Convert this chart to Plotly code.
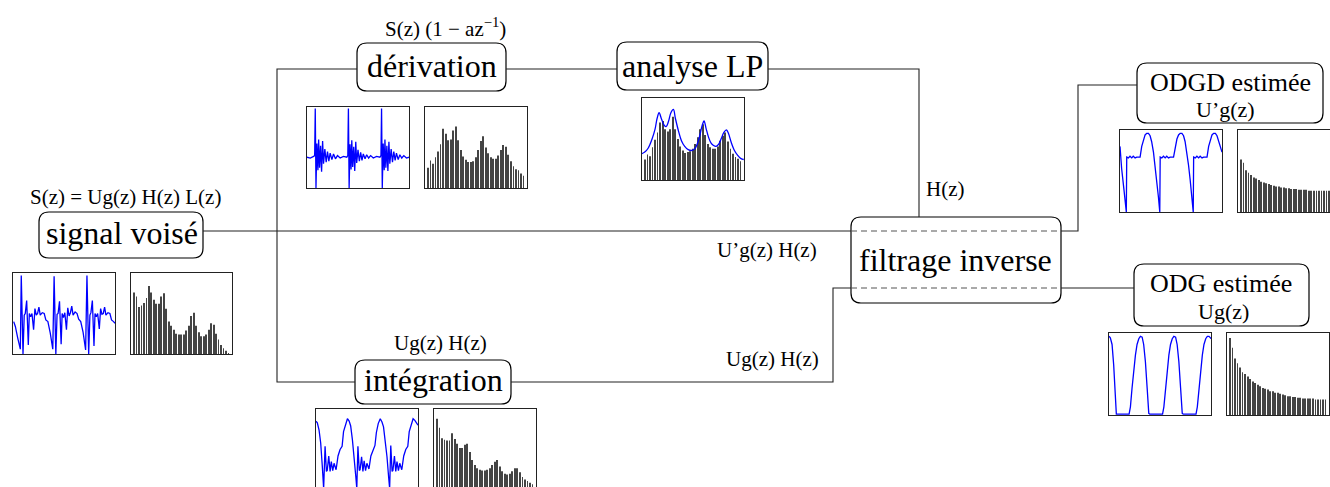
import plotly.graph_objects as go

# harmonic index shared by every spectrum inset
harmonics = list(range(1, 40))

# signal voisé : waveform (x and y in % of the inset box) and spectrum (% of box height)
sv_wave_x = [0.7, 2.3, 4.6, 7.2, 8.1, 9.8, 11.0, 12.0, 13.4, 15.0, 16.0, 17.3, 18.6, 20.2, 21.5, 22.8, 24.1, 25.4,
             26.7, 28.7, 30.6, 32.2, 34.2, 36.5, 39.0,
             40.3, 42.0, 43.2, 44.2, 45.6, 47.2, 48.2, 49.5, 50.8, 52.4, 53.7, 55.0, 56.3, 57.6, 58.9, 60.9, 62.8,
             64.4, 66.4, 68.7, 71.2,
             72.5, 74.2, 75.4, 76.4, 77.8, 79.4, 80.4, 81.7, 83.0, 84.6, 85.9, 87.2, 88.5, 89.8, 91.1, 93.1, 95.0,
             96.6, 98.6, 100.0]
sv_wave_y = [40, 34, 20, 6, 97, 0, 48, 50, 66, 11, 50, 46, 50, 30, 56, 48, 50, 58, 48, 51, 50, 42, 40, 26, 6,
             96, 0, 49, 50, 65, 12, 50, 45, 51, 30, 57, 47, 51, 59, 48, 52, 50, 43, 40, 27, 5,
             97, 0, 48, 51, 66, 10, 50, 46, 50, 31, 56, 49, 50, 58, 48, 51, 50, 42, 40, 38]
sv_spec = [76, 71, 58, 60, 63, 69, 84, 76, 67, 62, 62, 71, 75, 56, 40, 35, 30, 25, 24, 24,
           24, 29, 35, 47, 51, 35, 27, 22, 22, 24, 30, 38, 36, 25, 18, 11, 7, 4, 1]

# dérivation
der_wave_x = [0.0, 3.2, 6.5, 7.5, 8.1, 8.8, 9.7, 10.7, 11.4, 12.3, 13.3, 14.3, 15.3, 16.2, 17.5, 18.8, 20.1, 21.4,
              22.7, 24.4, 26.0, 27.9, 29.9, 32.5, 35.7, 39.0, 40.0,
              40.6, 41.3, 42.2, 43.2, 43.9, 44.8, 45.8, 46.8, 47.8, 48.7, 50.0, 51.3, 52.6, 53.9, 55.2, 56.9, 58.5,
              60.4, 62.4, 65.0, 68.2, 71.5, 72.5,
              73.1, 73.8, 74.7, 75.7, 76.4, 77.3, 78.3, 79.3, 80.3, 81.2, 82.5, 83.8, 85.1, 86.4, 87.7, 89.4, 91.0,
              92.9, 94.9, 97.5, 100.0]
der_wave_y = [38, 37, 39, 40, 98, 0, 55, 22, 60, 25, 52, 20, 58, 30, 48, 32, 45, 33, 43, 35, 42, 36, 40, 37, 39, 38, 40,
              98, 0, 54, 23, 59, 26, 51, 21, 57, 31, 47, 33, 44, 34, 42, 36, 41, 37, 40, 37, 39, 38, 40,
              98, 0, 55, 22, 60, 25, 52, 21, 57, 30, 48, 32, 45, 34, 43, 35, 41, 37, 40, 37, 38]
der_spec = [25, 34, 30, 38, 45, 54, 73, 67, 59, 60, 71, 76, 59, 47, 39, 35, 32, 32, 33, 38,
            47, 58, 64, 50, 43, 38, 36, 36, 40, 47, 53, 51, 41, 33, 27, 23, 22, 18, 15]

# analyse LP : spectrum with its LP envelope (envelope x in harmonic units)
lp_spec = [25, 31, 29, 40, 49, 58, 70, 72, 62, 59, 62, 77, 62, 50, 41, 36, 33, 34, 35, 38,
           44, 52, 62, 68, 55, 44, 40, 38, 38, 41, 48, 54, 58, 47, 38, 32, 28, 26, 23]
lp_env_x = [-0.3, 0.9, 2.3, 3.8, 5.0, 5.8, 6.6, 7.6, 8.6, 9.4, 10.3, 11.3, 12.3, 13.1, 14.3, 15.5, 16.8, 18.2, 19.5,
            20.8, 21.8, 22.8, 23.7, 24.5, 25.3, 26.3, 27.3, 28.3, 29.3, 30.4, 31.4, 32.4, 33.4, 34.2, 35.3, 36.6,
            37.9, 39.2, 40.3]
lp_env_y = [32, 34, 39, 50, 62, 75, 82, 74, 67, 65, 71, 82, 86, 75, 60, 48, 41, 37, 36, 38,
            44, 54, 66, 72, 63, 52, 45, 42, 41, 44, 51, 58, 61, 57, 46, 36, 30, 26, 25]

# intégration
int_wave_x = [0.0, 1.3, 3.0, 4.6, 6.2, 7.5, 8.9, 10.2, 11.0, 12.5, 13.8, 15.0, 16.4, 17.7, 19.7, 21.6, 23.6, 25.6,
              27.0, 28.8, 30.8, 32.5, 34.0, 35.7, 37.4, 39.0, 40.0,
              41.1, 42.4, 43.2, 44.7, 46.0, 47.2, 48.6, 49.9, 51.9, 53.8, 55.8, 57.8, 59.2, 61.0, 63.0, 64.7, 66.2,
              67.9, 69.6, 71.2, 72.2,
              73.3, 74.6, 75.4, 76.9, 78.2, 79.4, 80.8, 82.1, 84.1, 86.0, 88.0, 90.0, 91.4, 93.2, 95.2, 96.9, 98.5,
              100.0]
int_wave_y = [85, 83, 74, 58, 29, 2, 54, 23, 24, 42, 23, 35, 24, 33, 25, 42, 50, 54, 72, 81, 88, 85, 79, 62, 42, 17, 2,
              54, 24, 25, 41, 23, 36, 24, 33, 26, 42, 49, 55, 71, 82, 88, 84, 78, 61, 41, 16, 2,
              55, 23, 24, 42, 23, 35, 24, 33, 25, 42, 50, 54, 72, 81, 88, 86, 82, 80]
int_spec = [88, 77, 64, 62, 61, 61, 70, 63, 57, 52, 52, 56, 57, 47, 37, 31, 27, 25, 24, 24,
            25, 27, 31, 35, 37, 29, 23, 20, 19, 20, 23, 27, 27, 22, 16, 13, 11, 9, 7]

# ODGD estimée
odgd_wave_x = [0.0, 1.6, 3.9, 6.2, 6.6, 8.2, 9.8, 11.5, 13.0, 14.8, 16.4, 19.7, 21.3, 23.0, 24.6, 26.2, 27.9, 29.5,
               31.0, 32.8, 34.4, 36.0, 37.7, 39.0,
               39.4, 41.0, 42.6, 44.3, 45.8, 47.6, 49.2, 52.5, 54.1, 55.8, 57.4, 59.0, 60.7, 62.3, 63.8, 65.6, 67.2,
               68.8, 70.5, 71.8,
               72.2, 73.8, 75.4, 77.1, 78.6, 80.4, 82.0, 85.3, 86.9, 88.6, 90.2, 91.8, 93.5, 95.1, 96.6, 98.4, 100.0]
odgd_wave_y = [80, 53, 27, 0, 67, 66, 68, 66, 68, 66, 67, 67, 80, 89, 94, 96, 96, 93, 86, 73, 57, 39, 18, 0,
               67, 66, 68, 66, 68, 66, 67, 67, 80, 89, 94, 96, 96, 93, 86, 73, 57, 39, 18, 0,
               67, 66, 68, 66, 68, 66, 67, 67, 80, 89, 94, 96, 96, 93, 86, 77, 73]
odgd_spec = [64, 60, 51, 48, 45, 42, 41, 39, 37, 36, 35, 34, 33, 32, 31, 31, 30, 30, 29, 29,
             28, 28, 28, 27, 27, 27, 27, 26, 26, 26, 26, 26, 26, 26, 26, 26, 26, 26, 26]

# ODG estimée
odg_wave_x = [0.0, 1.3, 3.0, 4.6, 6.2, 7.2, 19.7, 21.0, 22.6, 24.3, 25.9, 27.5, 29.2, 30.8, 32.5, 34.0, 35.7, 37.4,
              39.0, 40.0,
              52.5, 53.8, 55.4, 57.1, 58.7, 60.3, 62.0, 63.6, 65.3, 66.8, 68.5, 70.2, 71.8, 72.8,
              85.3, 86.6, 88.2, 89.9, 91.5, 93.1, 94.8, 96.4, 98.0, 99.5, 100.0]
odg_wave_y = [96, 94, 86, 61, 24, 1, 1, 10, 33, 57, 73, 86, 93, 96, 95, 86, 65, 33, 2, 1,
              1, 10, 33, 57, 73, 86, 93, 96, 95, 86, 65, 33, 2, 1,
              1, 10, 33, 57, 73, 86, 93, 96, 96, 94, 93]
odg_spec = [94, 82, 69, 63, 58, 52, 50, 47, 44, 41, 39, 37, 35, 33, 32, 31, 29, 29, 27, 27,
            26, 25, 24, 23, 23, 22, 22, 21, 21, 20, 20, 20, 20, 20, 19, 19, 19, 19, 19]

W, H = 1330, 487
INK = "#222222"
BLUE = "#0000ff"
FONT = "Liberation Serif"

fig = go.Figure()


def box_path(x0, y0, x1, y1, r=10):
    return (f"M {x0 + r},{y0} L {x1 - r},{y0} Q {x1},{y0} {x1},{y0 + r} "
            f"L {x1},{y1 - r} Q {x1},{y1} {x1 - r},{y1} L {x0 + r},{y1} "
            f"Q {x0},{y1} {x0},{y1 - r} L {x0},{y0 + r} Q {x0},{y0} {x0 + r},{y0} Z")


# rounded blocks
blocks = [
    (39, 212, 203, 258),     # signal voisé
    (357, 43, 506, 91),      # dérivation
    (617, 42, 768, 90),      # analyse LP
    (355, 360, 511, 404),    # intégration
    (851, 217, 1061, 303),   # filtrage inverse
    (1137, 63, 1323, 123),   # ODGD estimée
    (1134, 264, 1309, 326),  # ODG estimée
]
for b in blocks:
    fig.add_shape(type="path", path=box_path(*b), xref="x", yref="y",
                  line=dict(color="black", width=1.2), fillcolor="rgba(0,0,0,0)")

# connecting wires
wires = [
    [(203, 231), (851, 231)],
    [(1061, 231), (1078, 231), (1078, 85), (1137, 85)],
    [(357, 69), (277, 69), (277, 382), (355, 382)],
    [(506, 69), (617, 69)],
    [(768, 69), (919, 69), (919, 217)],
    [(511, 382), (833, 382), (833, 288), (851, 288)],
    [(1061, 288), (1134, 288)],
]
for pts in wires:
    path = "M " + " L ".join(f"{x},{y}" for x, y in pts)
    fig.add_shape(type="path", path=path, xref="x", yref="y",
                  line=dict(color=INK, width=1.1), fillcolor="rgba(0,0,0,0)")

# dashed lines through the inverse filter
for y in (231, 288):
    fig.add_shape(type="line", x0=851, x1=1061, y0=y, y1=y, xref="x", yref="y",
                  line=dict(color="#555555", width=1.1, dash="6px,4px"))


def add_inset(n, x0, y0, x1, y1, xr, yr, cut=None):
    common = dict(showline=True, linecolor=INK, linewidth=1, mirror=True, showticklabels=False,
                  ticks="", showgrid=False, zeroline=False, fixedrange=True)
    xa = dict(common, domain=[x0 / W, x1 / W], range=xr, anchor=f"y{n}")
    ya = dict(common, domain=[1 - y1 / H, 1 - y0 / H], range=yr, anchor=f"x{n}")
    if cut == "bottom":
        xa.update(mirror=False, side="top")
    if cut == "right":
        ya.update(mirror=False)
    fig.update_layout({f"xaxis{n}": xa, f"yaxis{n}": ya})


def wave(n, xs, ys):
    fig.add_trace(go.Scatter(x=xs, y=ys, mode="lines", line=dict(color=BLUE, width=1.3),
                             xaxis=f"x{n}", yaxis=f"y{n}", hoverinfo="skip"))


def spectrum(n, vals):
    fig.add_trace(go.Bar(x=harmonics, y=vals, width=0.34, marker=dict(color="#444444", line=dict(width=0)),
                         xaxis=f"x{n}", yaxis=f"y{n}", hoverinfo="skip"))


SPEC_X = [-0.2, 40.4]
PCT = [0, 100]

add_inset(2, 13, 273, 115, 354, PCT, PCT)
wave(2, sv_wave_x, sv_wave_y)
add_inset(3, 131, 273, 232, 354, SPEC_X, PCT)
spectrum(3, sv_spec)

add_inset(4, 307, 107, 409, 188, PCT, PCT)
wave(4, der_wave_x, der_wave_y)
add_inset(5, 425, 107, 527, 188, SPEC_X, PCT)
spectrum(5, der_spec)

add_inset(6, 642, 98, 744, 180, SPEC_X, PCT)
spectrum(6, lp_spec)
fig.add_trace(go.Scatter(x=lp_env_x, y=lp_env_y, mode="lines", line=dict(color=BLUE, width=1.3, shape="spline"),
                         xaxis="x6", yaxis="y6", hoverinfo="skip", cliponaxis=False))

add_inset(7, 316, 409, 418, 487, PCT, [3.7, 100], cut="bottom")
wave(7, int_wave_x, int_wave_y)
add_inset(8, 434, 409, 536, 487, SPEC_X, [3.7, 100], cut="bottom")
spectrum(8, int_spec)

add_inset(9, 1120, 130, 1222, 212, PCT, PCT)
wave(9, odgd_wave_x, odgd_wave_y)
add_inset(10, 1238, 130, 1330, 212, [-0.2, 36.4], PCT, cut="right")
spectrum(10, odgd_spec)

add_inset(11, 1109, 333, 1211, 415, PCT, PCT)
wave(11, odg_wave_x, odg_wave_y)
add_inset(12, 1227, 333, 1329, 415, SPEC_X, PCT)
spectrum(12, odg_spec)

# labels
labels = [
    ("S(z) = Ug(z) H(z) L(z)", 125, 197, 21),
    ("signal voisé", 122, 233, 32),
    ("S(z) (1 − az<sup>−1</sup>)", 445, 27, 21),
    ("dérivation", 432, 66, 32),
    ("analyse LP", 692, 66, 32),
    ("H(z)", 945, 189, 21),
    ("U’g(z) H(z)", 767, 250, 21),
    ("filtrage inverse", 955, 260, 32),
    ("ODGD estimée", 1230, 82, 26),
    ("U’g(z)", 1225, 109, 22),
    ("ODG estimée", 1221, 283, 26),
    ("Ug(z)", 1223, 311, 22),
    ("Ug(z) H(z)", 440, 343, 21),
    ("intégration", 433, 380, 32),
    ("Ug(z) H(z)", 772, 359, 21),
]
fig.update_layout(annotations=[
    dict(text=t, x=x, y=y, xref="x", yref="y", showarrow=False, xanchor="center", yanchor="middle",
         font=dict(family=FONT, size=s, color="black"))
    for t, x, y, s in labels
])

fig.update_layout(
    width=W, height=H,
    margin=dict(l=0, r=0, t=0, b=0),
    showlegend=False,
    plot_bgcolor="white",
    paper_bgcolor="white",
    xaxis=dict(range=[0, W], visible=False, domain=[0, 1], fixedrange=True),
    yaxis=dict(range=[H, 0], visible=False, domain=[0, 1], fixedrange=True),
)

fig.write_html("out.html", config={"displayModeBar": False},
               post_script="document.body.style.margin='0';")
